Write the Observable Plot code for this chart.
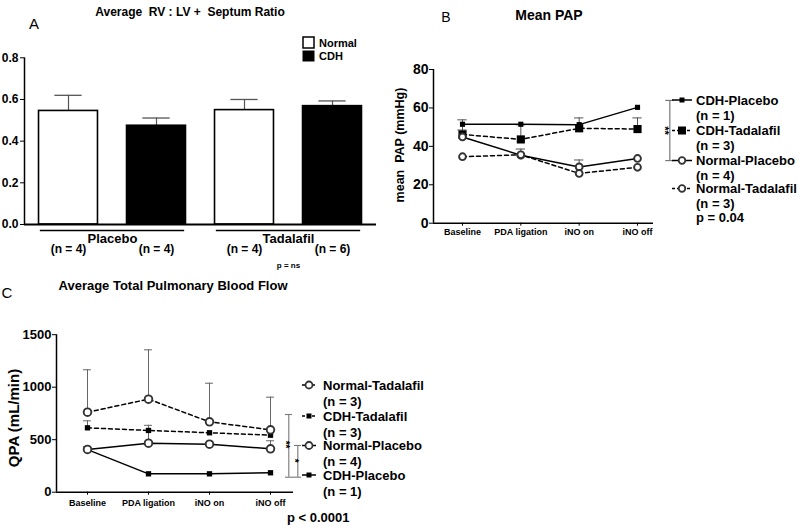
<!DOCTYPE html>
<html><head><meta charset="utf-8">
<script src="https://cdn.jsdelivr.net/npm/d3@7"></script>
<script src="https://cdn.jsdelivr.net/npm/@observablehq/plot@0.6"></script>
<style>
body{margin:0;background:#fff;}
#root{position:relative;width:800px;height:531px;overflow:hidden;background:#fff;}
#root > svg{position:absolute;overflow:visible;}
</style></head><body><div id="root"></div>
<script>
const FONT = "'Liberation Sans', Arial, Helvetica, sans-serif";

// ---------- Panel A data ----------
const groupsA = ["Placebo", "Placebo", "Tadalafil", "Tadalafil"];
const typesA = ["Normal", "CDH", "Normal", "CDH"];
const ratioMean = [0.545, 0.474, 0.549, 0.568];
const ratioSem = [0.075, 0.037, 0.051, 0.025];
const nA = [4, 4, 4, 6];
const ticksA = [0, 0.2, 0.4, 0.6, 0.8];
const groupNames = ["Placebo", "Tadalafil"];

// ---------- shared x categories ----------
const timepoints = ["Baseline", "PDA ligation", "iNO on", "iNO off"];

// ---------- Panel B data (mean PAP, mmHg) ----------
const seriesB = ["CDH-Placebo", "CDH-Tadalafil", "Normal-Placebo", "Normal-Tadalafil"];
const nB = [1, 3, 4, 3];
const papCdhPlacebo = [51.5, 51.5, 51.3, 60.3];
const papCdhTadalafil = [46.2, 43.6, 49.4, 49.0];
const papNormalPlacebo = [44.9, 35.4, 29.3, 33.7];
const papNormalTadalafil = [34.6, 35.6, 25.9, 29.1];
const papCdhPlaceboSem = [null, null, null, null];
const papCdhTadalafilSem = [7.6, 7.6, 5.4, 5.8];
const papNormalPlaceboSem = [3.6, 3.2, 3.6, null];
const papNormalTadalafilSem = [null, null, null, null];
const ticksB = [0, 20, 40, 60, 80];
const sigB = [{label: "**", from: 32.6, to: 63.9}];
const pB = "p = 0.04";

// ---------- Panel C data (QPA, mL/min) ----------
const seriesC = ["Normal-Tadalafil", "CDH-Tadalafil", "Normal-Placebo", "CDH-Placebo"];
const nC = [3, 3, 4, 1];
const qpaNormalTadalafil = [762, 886, 670, 594];
const qpaCdhTadalafil = [613, 588, 566, 543];
const qpaNormalPlacebo = [407, 467, 457, 413];
const qpaCdhPlacebo = [405, 175, 175, 185];
const qpaNormalTadalafilSem = [404, 470, 368, 311];
const qpaCdhTadalafilSem = [67, null, null, null];
const qpaNormalPlaceboSem = [28, 170, null, 77];
const qpaCdhPlaceboSem = [null, null, null, null];
const ticksC = [0, 500, 1000, 1500];
const sigC = [{label: "**", from: 143, to: 740}, {label: "*", from: 143, to: 445}];
const pC = "p < 0.0001";

// ---------- helpers ----------
function buildRows(names, means, sems) {
  return names.flatMap((s, k) => means[k].map((v, i) => ({
    series: s, t: i, mean: v, top: sems[k][i] == null ? null : v + sems[k][i]
  })));
}
const isDashed = s => s.endsWith("Tadalafil");
const baseStyle = {fontFamily: FONT, fontWeight: "bold", fontSize: "11px", background: "transparent", overflow: "visible", color: "#000"};
const root = document.getElementById("root");
function place(svg, left, top) { svg.style.left = left + "px"; svg.style.top = top + "px"; root.appendChild(svg); }

// ---------- Panel A ----------
const barsA = ratioMean.map((m, i) => ({pos: i + 1, group: groupsA[i], type: typesA[i], mean: m, top: m + ratioSem[i], n: nA[i]}));
const groupRows = groupNames.map((g, k) => ({name: g, pos: 2 * k + 1.5}));
const halfBar = 0.335, capA = 0.155, groupHalf = 0.82;
const plotA = Plot.plot({
  width: 400, height: 280, marginLeft: 24, marginRight: 24, marginTop: 57.3, marginBottom: 56,
  x: {type: "linear", domain: [0.5, 4.5], axis: null},
  y: {domain: [0, 0.8], axis: null},
  color: {domain: ["Normal", "CDH"], range: ["#fff", "#000"]},
  style: baseStyle,
  marks: [
    Plot.ruleX(barsA, {x: "pos", y1: "mean", y2: "top", stroke: "#555", strokeWidth: 1.2}),
    Plot.ruleY(barsA, {y: "top", x1: d => d.pos - capA, x2: d => d.pos + capA, stroke: "#555", strokeWidth: 1.3}),
    Plot.rectY(barsA, {x1: d => d.pos - halfBar, x2: d => d.pos + halfBar, y1: 0, y2: "mean", fill: "type", stroke: "#000", strokeWidth: 1.6}),
    Plot.ruleX([0.5], {stroke: "#000", strokeWidth: 1.5}),
    Plot.ruleY([0], {stroke: "#000", strokeWidth: 1.8}),
    Plot.axisY({ticks: ticksA, tickFormat: d3.format(".1f"), tickSize: 4, tickPadding: 2, fontSize: 12, label: null}),
    Plot.axisX({ticks: [1, 2, 3, 4], tickFormat: i => `(n = ${nA[i - 1]})`, tickSize: 0, tickPadding: 19.5, fontSize: 12, label: null}),
    Plot.ruleY(groupRows, {y: 0, x1: d => d.pos - groupHalf, x2: d => d.pos + groupHalf, dy: 6, stroke: "#000", strokeWidth: 1.5}),
    Plot.text(groupRows, {x: "pos", y: 0, text: "name", dy: 14, fontSize: 13, fontWeight: "bold", lineAnchor: "middle"}),
    Plot.text(["p = ns"], {x: 3.5, y: 0, text: d => d, dy: 41, fontSize: 8, fontWeight: "bold", lineAnchor: "middle"})
  ]
});
place(plotA, 0, 0);

// ---------- Panel B ----------
const rowsB = buildRows(seriesB, [papCdhPlacebo, papCdhTadalafil, papNormalPlacebo, papNormalTadalafil],
  [papCdhPlaceboSem, papCdhTadalafilSem, papNormalPlaceboSem, papNormalTadalafilSem]);
const errB = rowsB.filter(d => d.top != null);
const xB0 = -0.497, xB1 = 3.274, brB = 3.554;
const plotB = Plot.plot({
  width: 400, height: 280, marginLeft: 33, marginRight: 147, marginTop: 69, marginBottom: 57.3,
  x: {type: "linear", domain: [xB0, xB1]},
  y: {domain: [0, 80]},
  style: baseStyle,
  marks: [
    Plot.ruleX(errB, {x: "t", y1: "mean", y2: "top", stroke: "#555", strokeWidth: 1}),
    Plot.ruleY(errB, {y: "top", x1: d => d.t - 0.08, x2: d => d.t + 0.08, stroke: "#555", strokeWidth: 1}),
    Plot.line(rowsB.filter(d => !isDashed(d.series)), {x: "t", y: "mean", z: "series", stroke: "#000", strokeWidth: 1.5}),
    Plot.line(rowsB.filter(d => isDashed(d.series)), {x: "t", y: "mean", z: "series", stroke: "#000", strokeWidth: 1.5, strokeDasharray: "4,3"}),
    Plot.dot(rowsB.filter(d => d.series === "CDH-Placebo"), {x: "t", y: "mean", symbol: "square", r: 2.9, fill: "#000"}),
    Plot.dot(rowsB.filter(d => d.series === "CDH-Tadalafil"), {x: "t", y: "mean", symbol: "square", r: 4.6, fill: "#000"}),
    Plot.dot(rowsB.filter(d => d.series.startsWith("Normal")), {x: "t", y: "mean", r: 3.4, fill: "#fff", stroke: "#333", strokeWidth: 1.9}),
    Plot.ruleX([xB0], {stroke: "#000", strokeWidth: 1.5}),
    Plot.ruleY([0], {stroke: "#000", strokeWidth: 1.5}),
    Plot.axisY({ticks: ticksB, tickSize: 4, tickPadding: 1, fontSize: 14, label: null}),
    Plot.axisX({ticks: [0, 1, 2, 3], tickFormat: i => timepoints[i], tickSize: 3, tickPadding: 2, fontSize: 9, label: null}),
    Plot.ruleX(sigB, {x: () => brB, y1: "from", y2: "to", stroke: "#777", strokeWidth: 1.2}),
    Plot.ruleY(sigB, {y: "to", x1: () => brB - 0.07, x2: () => brB + 0.07, stroke: "#777", strokeWidth: 1.2}),
    Plot.ruleY(sigB, {y: "from", x1: () => brB - 0.07, x2: () => brB + 0.07, stroke: "#777", strokeWidth: 1.2}),
    Plot.text(sigB, {x: () => brB - 0.09, y: d => (d.from + d.to) / 2, text: "label", rotate: 90, fontSize: 11, fontWeight: "bold"})
  ]
});
place(plotB, 400, 0);

// ---------- Panel C ----------
const rowsC = buildRows(seriesC, [qpaNormalTadalafil, qpaCdhTadalafil, qpaNormalPlacebo, qpaCdhPlacebo],
  [qpaNormalTadalafilSem, qpaCdhTadalafilSem, qpaNormalPlaceboSem, qpaCdhPlaceboSem]);
const errC = rowsC.filter(d => d.top != null);
const xC0 = -0.508, xC1 = 3.377;
const brC = [3.30, 3.448];
const sigCRows = sigC.map((d, i) => ({...d, x: brC[i]}));
const plotC = Plot.plot({
  width: 400, height: 251, marginLeft: 56, marginRight: 107, marginTop: 54.2, marginBottom: 39.3,
  x: {type: "linear", domain: [xC0, xC1]},
  y: {domain: [0, 1500]},
  style: baseStyle,
  marks: [
    Plot.ruleX(errC, {x: "t", y1: "mean", y2: "top", stroke: "#666", strokeWidth: 1}),
    Plot.ruleY(errC, {y: "top", x1: d => d.t - 0.065, x2: d => d.t + 0.065, stroke: "#666", strokeWidth: 1}),
    Plot.line(rowsC.filter(d => !isDashed(d.series)), {x: "t", y: "mean", z: "series", stroke: "#000", strokeWidth: 1.5}),
    Plot.line(rowsC.filter(d => isDashed(d.series)), {x: "t", y: "mean", z: "series", stroke: "#000", strokeWidth: 1.5, strokeDasharray: "4,3"}),
    Plot.dot(rowsC.filter(d => d.series.startsWith("CDH")), {x: "t", y: "mean", symbol: "square", r: 3.0, fill: "#000"}),
    Plot.dot(rowsC.filter(d => d.series.startsWith("Normal")), {x: "t", y: "mean", r: 3.8, fill: "#fff", stroke: "#333", strokeWidth: 1.9}),
    Plot.ruleX([xC0], {stroke: "#000", strokeWidth: 1.5}),
    Plot.ruleY([0], {stroke: "#000", strokeWidth: 1.5}),
    Plot.axisY({ticks: ticksC, tickFormat: d => String(d), tickSize: 4, tickPadding: 1, fontSize: 13, label: null}),
    Plot.axisX({ticks: [0, 1, 2, 3], tickFormat: i => timepoints[i], tickSize: 3, tickPadding: 4, fontSize: 9, label: null}),
    Plot.ruleX(sigCRows, {x: "x", y1: "from", y2: "to", stroke: "#777", strokeWidth: 1.1}),
    Plot.ruleY(sigCRows, {y: "to", x1: d => d.x - 0.055, x2: d => d.x + 0.06, stroke: "#777", strokeWidth: 1.1}),
    Plot.ruleY(sigCRows.slice(0, 1), {y: "from", x1: d => d.x - 0.055, x2: () => 3.51, stroke: "#777", strokeWidth: 1.1}),
    Plot.text(sigCRows, {x: d => d.x - 0.055, y: d => d.from + (d.to - d.from) * 0.52, text: "label", rotate: 90, fontSize: 10, fontWeight: "bold"})
  ]
});
place(plotC, 0, 280);

// ---------- overlay: titles, letters, legends, labels ----------
const ov = d3.select(root).append("svg").attr("width", 800).attr("height", 531)
  .style("left", "0px").style("top", "0px").style("pointer-events", "none")
  .style("font-family", FONT);
function txt(str, x, y, {size = 12, weight = "bold", anchor = "middle", rotate = 0} = {}) {
  ov.append("text").attr("transform", `translate(${x},${y}) rotate(${rotate})`)
    .attr("text-anchor", anchor).attr("dominant-baseline", "central")
    .style("white-space", "pre").attr("font-size", size).attr("font-weight", weight)
    .attr("fill", "#000").text(str);
}
function swatch(cx, cy, dashed, marker, len = 20) {
  const g = ov.append("g");
  g.append("line").attr("x1", cx - len / 2).attr("x2", cx + len / 2).attr("y1", cy).attr("y2", cy)
    .attr("stroke", "#000").attr("stroke-width", 1.5).attr("stroke-dasharray", dashed ? "3,2" : null);
  if (marker.type === "square") {
    g.append("rect").attr("x", cx - marker.s / 2).attr("y", cy - marker.s / 2).attr("width", marker.s).attr("height", marker.s).attr("fill", "#000");
  } else {
    g.append("circle").attr("cx", cx).attr("cy", cy).attr("r", marker.r).attr("fill", "#fff").attr("stroke", "#333").attr("stroke-width", 1.8);
  }
}

// Panel A texts
txt("Average  RV : LV +  Septum Ratio", 190, 12, {size: 12});
txt("A", 34, 23, {size: 15, weight: "normal"});
ov.append("rect").attr("x", 303).attr("y", 37).attr("width", 11).attr("height", 11).attr("fill", "#fff").attr("stroke", "#000").attr("stroke-width", 1.5);
ov.append("rect").attr("x", 302.5).attr("y", 50.5).attr("width", 12).attr("height", 11).attr("fill", "#000");
txt(typesA[0], 319, 43, {size: 11, anchor: "start"});
txt(typesA[1], 319, 56, {size: 11, anchor: "start"});

// Panel B texts
txt("Mean PAP", 549, 15, {size: 14});
txt("B", 446, 17, {size: 14, weight: "normal"});
txt("mean  PAP (mmHg)", 400, 145, {size: 12.5, rotate: -90});
const legBY = [100, 130.5, 160.5, 188.5];
const legBMarker = {
  "CDH-Placebo": {type: "square", s: 5},
  "CDH-Tadalafil": {type: "square", s: 8},
  "Normal-Placebo": {type: "circle", r: 3.3},
  "Normal-Tadalafil": {type: "circle", r: 3.3}
};
seriesB.forEach((s, i) => {
  swatch(682, legBY[i], isDashed(s), legBMarker[s]);
  txt(s, 696, legBY[i], {size: 13, anchor: "start"});
  txt(`(n = ${nB[i]})`, 696, legBY[i] + 15, {size: 13, anchor: "start"});
});
txt(pB, 696, 217, {size: 13, anchor: "start"});

// Panel C texts
txt("Average Total Pulmonary Blood Flow", 173, 285, {size: 13});
txt("C", 7, 292, {size: 15, weight: "normal"});
txt("QPA (mL/min)", 13, 418, {size: 15, rotate: -90});
const legCY = [385, 416, 445.5, 475];
seriesC.forEach((s, i) => {
  const m = s.startsWith("CDH") ? {type: "square", s: 5} : {type: "circle", r: 3.5};
  swatch(309, legCY[i], isDashed(s), m, 14);
  txt(s, 323, legCY[i], {size: 13, anchor: "start"});
  txt(`(n = ${nC[i]})`, 323, legCY[i] + 16, {size: 13, anchor: "start"});
});
txt(pC, 287, 517, {size: 13, anchor: "start"});
</script></body></html>
